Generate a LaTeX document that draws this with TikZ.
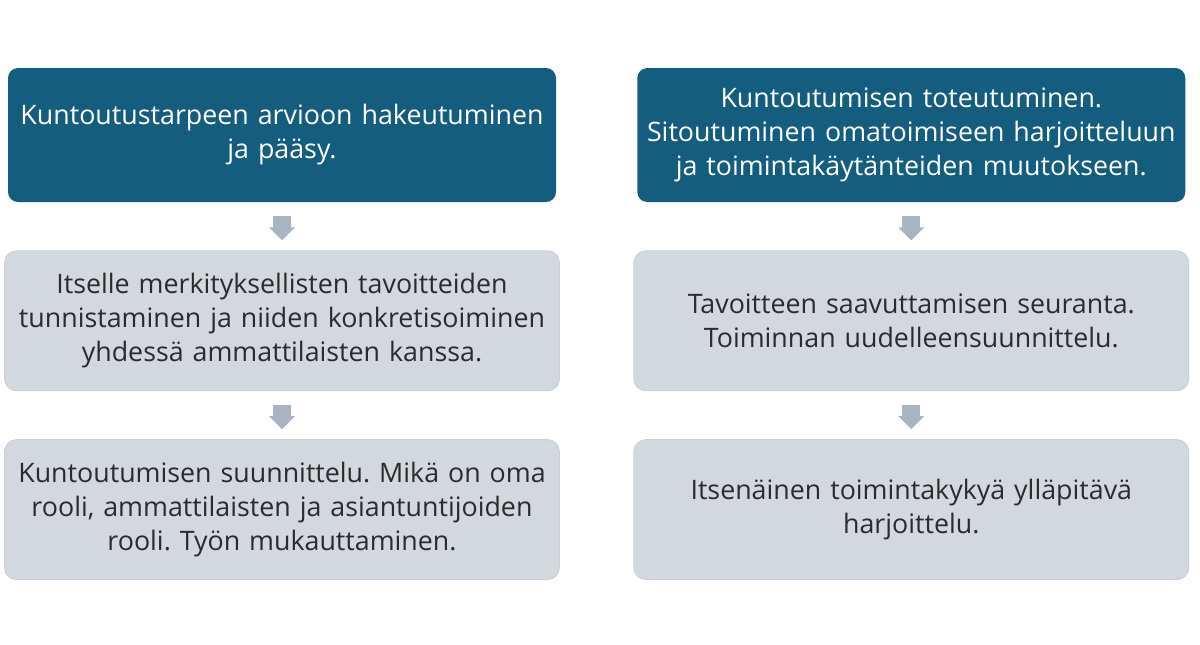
\documentclass[tikz,border=0pt]{standalone}
\usepackage{fontspec}
\setmainfont{Open Sans}
\usetikzlibrary{arrows.meta,positioning}
\definecolor{Petrol}{HTML}{155D7F}
\definecolor{Harmaa}{HTML}{D3D7DE}
\definecolor{Reuna}{HTML}{C9CED6}
\definecolor{Nuoli}{HTML}{A9B4C2}
\definecolor{Teksti}{HTML}{2B2B2B}

\begin{document}
\begin{tikzpicture}
    [
    node distance=24pt and 40.25pt,
    head/.style ={
        rectangle,
        fill=Petrol,
        draw=none,
        text=white,
        inner xsep=0pt,
        text width=274pt,
        minimum height=67pt,
        align=center,
        rounded corners=5pt
    },
    step box/.style ={
        rectangle,
        fill=Harmaa,
        draw=Reuna,
        thin,
        text=Teksti,
        inner xsep=0pt,
        text width=277.5pt,
        minimum height=70pt,
        align=center,
        rounded corners=6pt
    },
    a/.style={
        draw=Nuoli,
        line width=9pt,
        -{Triangle[length=6.5pt,width=12.5pt]},
        shorten <=7pt,
        shorten >=5pt
    }
    ]
    \useasboundingbox (0,0) rectangle (600pt,-322pt);
    \fontsize{13.4}{17}\selectfont\frenchspacing
    \node (arvio)[head] at (141pt,-67.5pt) {Kuntoutustarpeen arvioon hakeutuminen\\ja pääsy.};
    \node (tavoite)[step box,below=of arvio] {Itselle merkityksellisten tavoitteiden\\tunnistaminen ja niiden konkretisoiminen\\yhdessä ammattilaisten kanssa.};
    \node (suunnittelu)[step box,below=of tavoite] {Kuntoutumisen suunnittelu. Mikä on oma\\rooli, ammattilaisten ja asiantuntijoiden\\rooli. Työn mukauttaminen.};

    \node (toteutus)[head,right=of arvio] {Kuntoutumisen toteutuminen.\\Sitoutuminen omatoimiseen harjoitteluun\\ja toimintakäytänteiden muutokseen.};
    \node (seuranta)[step box,below=of toteutus] {Tavoitteen saavuttamisen seuranta.\\Toiminnan uudelleensuunnittelu.};
    \node (yllapito)[step box,below=of seuranta] {Itsenäinen toimintakykyä ylläpitävä\\harjoittelu.};

    \draw[a] (arvio) -- (tavoite);
    \draw[a] (tavoite) -- (suunnittelu);
    \draw[a] (toteutus) -- (seuranta);
    \draw[a] (seuranta) -- (yllapito);
\end{tikzpicture}
\end{document}
